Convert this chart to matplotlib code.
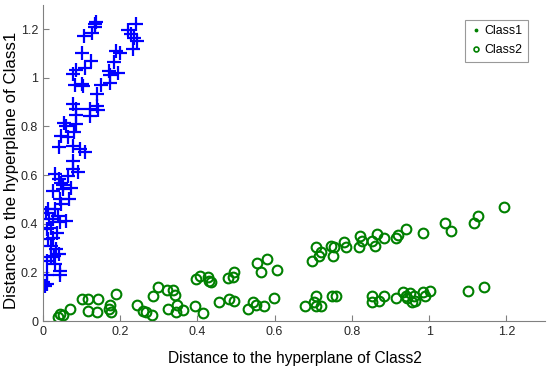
import matplotlib
matplotlib.use("Agg")
import matplotlib.pyplot as plt
from matplotlib.lines import Line2D

plt.rcParams['font.family'] = ['Liberation Sans', 'DejaVu Sans']

class1_x = [0.134, 0.137, 0.136, 0.128, 0.107, 0.101, 0.124, 0.108, 0.085, 0.078, 0.100, 0.083, 0.104,
            0.077, 0.085, 0.085, 0.055, 0.061, 0.085, 0.081, 0.048, 0.065, 0.042, 0.078, 0.097, 0.110,
            0.077, 0.078, 0.091, 0.031, 0.065, 0.042, 0.048, 0.052, 0.074, 0.027, 0.052, 0.044, 0.048,
            0.068, 0.014, 0.008, 0.031, 0.016, 0.027, 0.040, 0.061, 0.010, 0.022, 0.044, 0.014, 0.027,
            0.037, 0.022, 0.035, 0.042, 0.010, 0.022, 0.028, 0.031, 0.044, 0.044, 0.011, 0.001, 0.005,
            0.010,
            0.242, 0.220, 0.229, 0.235, 0.243, 0.233, 0.188, 0.200, 0.183, 0.171, 0.195, 0.175, 0.173,
            0.151, 0.139, 0.139, 0.143, 0.121, 0.121]
class1_y = [1.220, 1.230, 1.210, 1.183, 1.172, 1.103, 1.069, 1.042, 1.032, 1.014, 0.973, 0.969, 0.966,
            0.891, 0.873, 0.846, 0.816, 0.802, 0.809, 0.777, 0.761, 0.758, 0.717, 0.720, 0.706, 0.693,
            0.658, 0.627, 0.611, 0.604, 0.597, 0.583, 0.569, 0.559, 0.545, 0.535, 0.542, 0.501, 0.483,
            0.501, 0.460, 0.446, 0.460, 0.419, 0.419, 0.432, 0.412, 0.378, 0.381, 0.408, 0.337, 0.340,
            0.364, 0.309, 0.296, 0.275, 0.248, 0.262, 0.268, 0.234, 0.207, 0.189, 0.189, 0.161, 0.145,
            0.152,
            1.220, 1.196, 1.179, 1.165, 1.151, 1.120, 1.110, 1.103, 1.065, 1.028, 1.021, 1.010, 0.977,
            0.969, 0.932, 0.884, 0.868, 0.871, 0.841]

class2_x = [0.040, 0.044, 0.052, 0.070, 0.100, 0.117, 0.143, 0.117, 0.139, 0.170, 0.175, 0.177, 0.188,
            0.243, 0.259, 0.266, 0.283, 0.285, 0.298, 0.321, 0.338, 0.341, 0.323, 0.347, 0.345, 0.362,
            0.395, 0.414, 0.397, 0.407, 0.427, 0.431, 0.435, 0.455, 0.481, 0.495, 0.480, 0.491, 0.495,
            0.530, 0.543, 0.551, 0.573, 0.599, 0.553, 0.579, 0.564, 0.606,
            0.696, 0.706, 0.719, 0.715, 0.745, 0.754, 0.751, 0.779, 0.784, 0.818, 0.822, 0.825, 0.851,
            0.861, 0.865, 0.883, 0.913, 0.920, 0.940, 0.983, 1.040, 1.057, 1.115, 1.126, 1.195,
            0.679, 0.702, 0.708, 0.706, 0.719, 0.749, 0.759, 0.851, 0.852, 0.871, 0.883, 0.913, 0.932,
            0.939, 0.943, 0.951, 0.956, 0.960, 0.964, 0.983, 0.990, 1.003, 1.100, 1.143]
class2_y = [0.015, 0.029, 0.025, 0.049, 0.090, 0.090, 0.090, 0.042, 0.038, 0.049, 0.066, 0.036, 0.111,
            0.066, 0.042, 0.036, 0.025, 0.104, 0.138, 0.129, 0.129, 0.107, 0.049, 0.066, 0.036, 0.046,
            0.060, 0.033, 0.172, 0.186, 0.179, 0.166, 0.159, 0.079, 0.090, 0.083, 0.175, 0.179, 0.203,
            0.049, 0.079, 0.066, 0.063, 0.093, 0.237, 0.255, 0.203, 0.211,
            0.248, 0.303, 0.282, 0.266, 0.309, 0.303, 0.266, 0.326, 0.303, 0.303, 0.348, 0.330, 0.330,
            0.309, 0.357, 0.340, 0.340, 0.353, 0.378, 0.361, 0.405, 0.371, 0.402, 0.430, 0.467,
            0.060, 0.079, 0.101, 0.060, 0.060, 0.101, 0.104, 0.104, 0.079, 0.083, 0.104, 0.093, 0.120,
            0.104, 0.093, 0.115, 0.077, 0.104, 0.083, 0.120, 0.101, 0.124, 0.124, 0.138]

ticks = [0, 0.2, 0.4, 0.6, 0.8, 1.0, 1.2]
tick_labels = ['0', '0.2', '0.4', '0.6', '0.8', '1', '1.2']
legend_labels = ['Class1', 'Class2']

fig = plt.figure(figsize=(5.5, 3.72), dpi=100)
ax = fig.add_axes([0.078, 0.137, 0.913, 0.85])

ax.plot(class1_x, class1_y, linestyle='none', marker='+', color='#0000ff',
        markersize=9.5, markeredgewidth=1.6)
ax.plot(class2_x, class2_y, linestyle='none', marker='o', markerfacecolor='none',
        markeredgecolor='#008000', markersize=7, markeredgewidth=1.5)

ax.set_xlim(0, 1.3)
ax.set_ylim(0, 1.3)
ax.set_xticks(ticks)
ax.set_xticklabels(tick_labels)
ax.set_yticks(ticks)
ax.set_yticklabels(tick_labels)
ax.tick_params(direction='in', length=4, color='#808080', labelcolor='#262626', labelsize=9)
for s in ['top', 'right']:
    ax.spines[s].set_visible(False)
for s in ['left', 'bottom']:
    ax.spines[s].set_color('#808080')

ax.set_xlabel('Distance to the hyperplane of Class2', fontsize=11.2)
ax.set_ylabel('Distance to the hyperplane of Class1', fontsize=12.2)
ax.xaxis.set_label_coords(0.502, -0.095)
ax.yaxis.set_label_coords(-0.048, 0.478)

handles = [Line2D([], [], linestyle='none', marker='.', color='#008000', markersize=3.5),
           Line2D([], [], linestyle='none', marker='o', markerfacecolor='none',
                  markeredgecolor='#008000', markersize=3.5, markeredgewidth=1.2)]
leg = ax.legend(handles, legend_labels, loc='upper right', bbox_to_anchor=(0.966, 0.953),
                borderaxespad=0, fontsize=8.9, frameon=True, fancybox=False, handlelength=0.9,
                handletextpad=0.25, borderpad=0.45, labelspacing=0.55)
leg.get_frame().set_edgecolor('#808080')
leg.get_frame().set_linewidth(0.8)

fig.savefig('out.png', dpi=100)
